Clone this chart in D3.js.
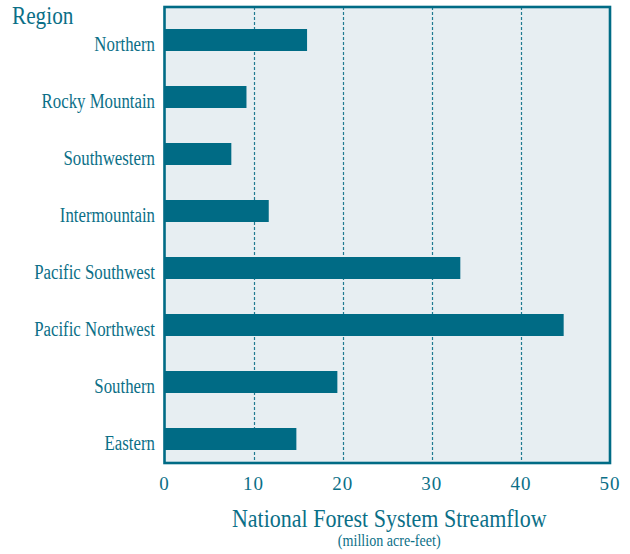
<!DOCTYPE html>
<html>
<head>
<meta charset="utf-8">
<script src="https://cdn.jsdelivr.net/npm/d3@7"></script>
<style>
  html, body { margin: 0; padding: 0; background: #ffffff; }
  svg { display: block; }
  text { font-family: "Liberation Serif", "DejaVu Serif", serif; fill: #0b6f87; }
</style>
</head>
<body>
<svg id="chart" width="630" height="554"></svg>
<script>
// ---- data ----
const categories = ["Northern", "Rocky Mountain", "Southwestern", "Intermountain",
                    "Pacific Southwest", "Pacific Northwest", "Southern", "Eastern"];
const streamflow = [16.0, 9.2, 7.5, 11.7, 33.2, 44.8, 19.4, 14.8];
const tickValues = [0, 10, 20, 30, 40, 50];
const yAxisTitle = "Region";
const xAxisTitle = "National Forest System Streamflow";
const xAxisSubtitle = "(million acre-feet)";

// ---- layout ----
const teal = "#006b85";
const plot = { left: 164.5, right: 610, top: 7, bottom: 463 };

const svg = d3.select("#chart");

const x = d3.scaleLinear().domain([0, 50]).range([plot.left, plot.right]);
const y = d3.scaleBand().domain(categories)
  .range([11.5, 467.5]).paddingInner(0.614).paddingOuter(0.307);

// background
svg.append("rect")
  .attr("x", plot.left).attr("y", plot.top)
  .attr("width", plot.right - plot.left).attr("height", plot.bottom - plot.top)
  .attr("fill", "#e7eef2");

// gridlines
svg.append("g").selectAll("line")
  .data(tickValues.filter(d => d > 0 && d < 50))
  .join("line")
  .attr("x1", d => Math.round(x(d)) + 0.5).attr("x2", d => Math.round(x(d)) + 0.5)
  .attr("y1", plot.top).attr("y2", plot.bottom)
  .attr("stroke", "#1f7a91").attr("stroke-width", 1.2)
  .attr("stroke-dasharray", "3,2");

// bars
svg.append("g").selectAll("rect")
  .data(categories.map((c, i) => ({ c, v: streamflow[i] })))
  .join("rect")
  .attr("x", x(0))
  .attr("y", d => y(d.c))
  .attr("width", d => x(d.v) - x(0))
  .attr("height", y.bandwidth())
  .attr("fill", teal);

// frame
svg.append("rect")
  .attr("x", plot.left).attr("y", plot.top)
  .attr("width", plot.right - plot.left).attr("height", plot.bottom - plot.top)
  .attr("fill", "none").attr("stroke", teal).attr("stroke-width", 2.6);

// helper to condense text horizontally
function condense(sel, f) {
  sel.each(function () {
    const len = this.getComputedTextLength();
    d3.select(this).attr("textLength", len * f).attr("lengthAdjust", "spacingAndGlyphs");
  });
}

// category labels
const labels = svg.append("g").selectAll("text")
  .data(categories)
  .join("text")
  .attr("x", 155)
  .attr("y", d => y(d) + y.bandwidth() / 2 + 10.5)
  .attr("text-anchor", "end")
  .attr("font-size", 20)
  .text(d => d);
condense(labels, 0.84);

// tick labels
svg.append("g").selectAll("text")
  .data(tickValues)
  .join("text")
  .attr("x", d => x(d))
  .attr("y", 489.5)
  .attr("text-anchor", "middle")
  .attr("font-size", 19)
  .attr("letter-spacing", 1)
  .text(d => d);

// titles
const rt = svg.append("text")
  .attr("x", 12).attr("y", 23.5)
  .attr("font-size", 25)
  .text(yAxisTitle);
condense(rt, 0.85);

const xt = svg.append("text")
  .attr("x", (plot.left + plot.right) / 2 + 2).attr("y", 526.5)
  .attr("text-anchor", "middle")
  .attr("font-size", 25)
  .text(xAxisTitle);
condense(xt, 0.88);

const xs = svg.append("text")
  .attr("x", (plot.left + plot.right) / 2 + 2).attr("y", 546)
  .attr("text-anchor", "middle")
  .attr("font-size", 16)
  .text(xAxisSubtitle);
condense(xs, 0.88);
</script>
</body>
</html>
